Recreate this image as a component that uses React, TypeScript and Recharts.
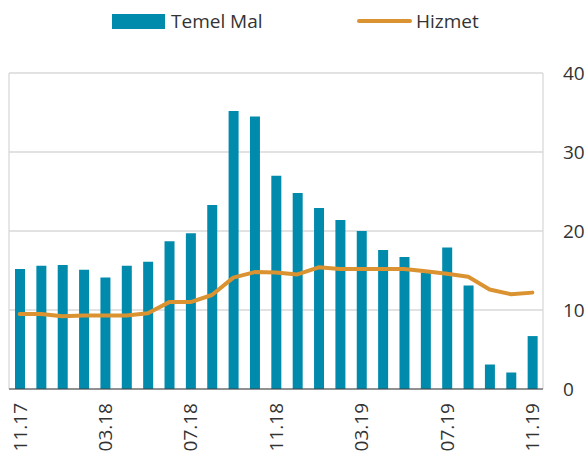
import {
  Bar,
  CartesianGrid,
  ComposedChart,
  Legend,
  Line,
  XAxis,
  YAxis,
} from 'recharts';

const BAR = '#008bad';
const LINE = '#da9330';
const GRID = '#d9d9d9';
const AXIS = '#404040';
const TEXT = '#333333';
const FONT = '"Open Sans", "Noto Sans", sans-serif';

const months = [
  '11.17', '12.17', '01.18', '02.18', '03.18', '04.18', '05.18', '06.18',
  '07.18', '08.18', '09.18', '10.18', '11.18', '12.18', '01.19', '02.19',
  '03.19', '04.19', '05.19', '06.19', '07.19', '08.19', '09.19', '10.19',
  '11.19',
];
const temelMal = [
  15.2, 15.6, 15.7, 15.1, 14.1, 15.6, 16.1, 18.7, 19.7, 23.3, 35.2, 34.5,
  27.0, 24.8, 22.9, 21.4, 20.0, 17.6, 16.7, 14.7, 17.9, 13.1, 3.1, 2.1, 6.7,
];
const hizmet = [
  9.5, 9.5, 9.2, 9.3, 9.3, 9.3, 9.6, 11.0, 11.0, 11.9, 14.1, 14.8,
  14.75, 14.5, 15.4, 15.2, 15.2, 15.2, 15.2, 14.9, 14.6, 14.2, 12.6, 12.0, 12.2,
];
const xTickLabels = ['11.17', '03.18', '07.18', '11.18', '03.19', '07.19', '11.19'];
const yTicks = [0, 10, 20, 30, 40];

const data = months.map((month, i) => ({
  month,
  temelMal: temelMal[i],
  hizmet: hizmet[i],
}));

// tick marks and vertical grid sit on the left edge of each labelled month
const edgeTicks = xTickLabels.map((l) => months.indexOf(l));

function MonthTick({ x, y, payload }: any) {
  return (
    <text
      x={x}
      y={y}
      dy="0.36em"
      transform={`rotate(-90 ${x} ${y})`}
      textAnchor="end"
      fontFamily={FONT}
      fontSize={19}
      fill={TEXT}
    >
      {payload.value}
    </text>
  );
}

function ChartLegend() {
  return (
    <div
      style={{
        position: 'relative',
        width: 585,
        height: 40,
        fontFamily: FONT,
        fontSize: 19,
        color: TEXT,
      }}
    >
      <div
        style={{
          position: 'absolute',
          left: 112,
          top: 21,
          transform: 'translateY(-50%)',
          display: 'flex',
          alignItems: 'center',
          whiteSpace: 'nowrap',
        }}
      >
        <span style={{ display: 'inline-block', width: 53, height: 15, background: BAR, marginRight: 6 }} />
        <span>Temel Mal</span>
      </div>
      <div
        style={{
          position: 'absolute',
          left: 357,
          top: 21,
          transform: 'translateY(-50%)',
          display: 'flex',
          alignItems: 'center',
          whiteSpace: 'nowrap',
        }}
      >
        <span
          style={{
            display: 'inline-block',
            width: 55,
            height: 4.5,
            borderRadius: 3,
            background: LINE,
            marginRight: 4,
          }}
        />
        <span>Hizmet</span>
      </div>
    </div>
  );
}

export default function App() {
  return (
    <div style={{ position: 'absolute', left: 0, top: 0 }}>
      <ComposedChart
        width={585}
        height={454}
        data={data}
        margin={{ top: 33, right: 0, bottom: 0, left: 9 }}
      >
        <Legend
          verticalAlign="top"
          content={() => <ChartLegend />}
          wrapperStyle={{ left: 0, top: 0, width: 585 }}
        />
        <CartesianGrid xAxisId="edge" stroke={GRID} strokeWidth={1.3} />
        <XAxis
          xAxisId="edge"
          type="number"
          domain={[0, months.length]}
          ticks={edgeTicks}
          allowDataOverflow
          height={8}
          tick={false}
          tickSize={7}
          tickLine={{ stroke: AXIS }}
          axisLine={{ stroke: AXIS }}
        />
        <XAxis
          xAxisId="month"
          dataKey="month"
          ticks={xTickLabels}
          height={57}
          axisLine={false}
          tickLine={false}
          tickSize={0}
          tickMargin={6}
          tick={<MonthTick />}
        />
        <YAxis
          orientation="right"
          domain={[0, 40]}
          ticks={yTicks}
          width={42}
          axisLine={false}
          tickLine={false}
          tickSize={6}
          tickMargin={14}
          tick={{ fontFamily: FONT, fontSize: 19, fill: TEXT }}
        />
        <Bar
          xAxisId="month"
          dataKey="temelMal"
          fill={BAR}
          barSize={10}
          isAnimationActive={false}
        />
        <Line
          xAxisId="month"
          type="linear"
          dataKey="hizmet"
          stroke={LINE}
          strokeWidth={4}
          strokeLinejoin="round"
          strokeLinecap="round"
          dot={false}
          activeDot={false}
          isAnimationActive={false}
        />
      </ComposedChart>
    </div>
  );
}
